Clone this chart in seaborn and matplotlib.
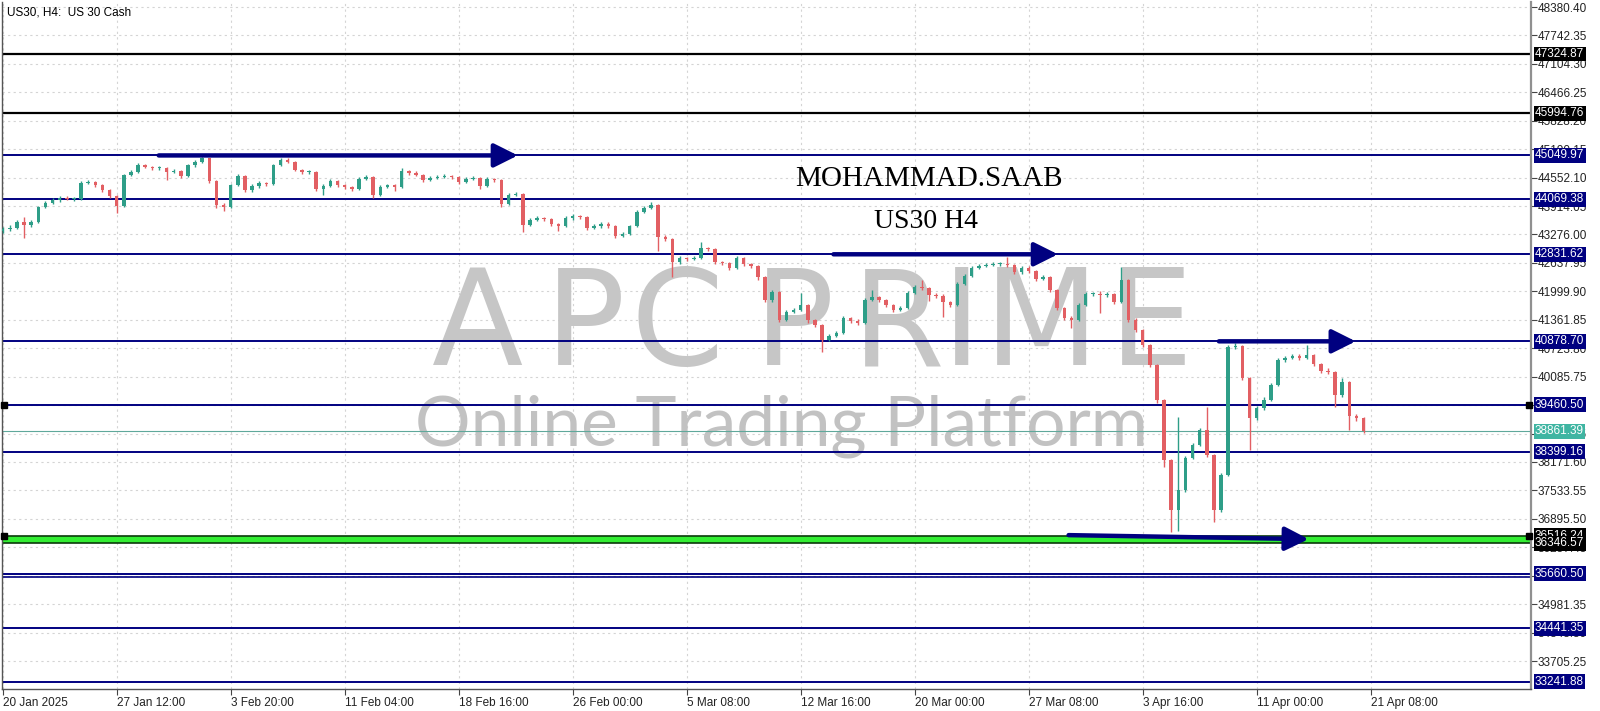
import numpy as np
import pandas as pd
import matplotlib

matplotlib.use('Agg')
import matplotlib.pyplot as plt
import matplotlib.transforms as mtransforms
import seaborn as sns

# ==========================================
# data (2 H4 bars per candle)
# ==========================================
first_open = 43350
closes = [43399, 43421, 43556, 43489, 43556, 43893, 43982, 44050, 44095, 44072,
          44072, 44431, 44454, 44386, 44274, 44140, 43915, 44611, 44678, 44835,
          44790, 44768, 44768, 44678, 44700, 44588, 44835, 44902, 44992, 44476,
          43938, 43893, 44386, 44588, 44274, 44364, 44431, 44409, 44835, 44947,
          44902, 44723, 44678, 44678, 44296, 44364, 44476, 44386, 44341, 44296,
          44521, 44566, 44162, 44341, 44386, 44341, 44700, 44656, 44611, 44498,
          44543, 44566, 44588, 44566, 44454, 44521, 44543, 44364, 44521, 44498,
          43960, 44162, 44184, 43489, 43601, 43646, 43623, 43511, 43466, 43646,
          43691, 43668, 43421, 43466, 43511, 43466, 43242, 43287, 43466, 43780,
          43870, 43938, 43220, 43175, 42658, 42748, 42726, 42748, 42973, 42950,
          42658, 42636, 42524, 42748, 42614, 42569, 42322, 41806, 41985, 41357,
          41537, 41581, 41694, 41357, 41245, 40908, 40998, 41065, 41402, 41335,
          41290, 41806, 41873, 41806, 41694, 41581, 41626, 41963, 42098, 42075,
          41918, 41896, 41761, 41694, 42165, 42344, 42524, 42569, 42591, 42614,
          42614, 42591, 42434, 42524, 42457, 42277, 42322, 42030, 41626, 41402,
          41357, 41694, 41940, 41940, 41918, 41940, 41761, 42255, 41357, 41133,
          40796, 40347, 39562, 38216, 37094, 37542, 38260, 38552, 38889, 38328,
          37094, 37879, 40751, 40774, 40056, 39158, 39382, 39562, 39899, 40459,
          40504, 40549, 40504, 40572, 40370, 40213, 40190, 39674, 39966, 39203,
          39158, 38861.39]
highs = [43440, 43480, 43600, 43668, 43610, 43920, 44030, 44090, 44140, 44130,
         44110, 44470, 44500, 44480, 44400, 44290, 44170, 44640, 44720, 44870,
         44860, 44820, 44810, 44800, 44740, 44720, 44860, 44940, 45015, 45000,
         44490, 43990, 44420, 44630, 44610, 44400, 44470, 44460, 44860, 45000,
         44990, 44920, 44750, 44720, 44700, 44400, 44520, 44500, 44410, 44360,
         44560, 44610, 44590, 44380, 44420, 44400, 44760, 44720, 44700, 44640,
         44580, 44600, 44630, 44620, 44590, 44560, 44580, 44560, 44560, 44550,
         44510, 44200, 44220, 44200, 43640, 43700, 43670, 43650, 43540, 43690,
         43730, 43720, 43690, 43510, 43560, 43560, 43500, 43330, 43500, 43820,
         43910, 44005, 43950, 43260, 43190, 42790, 42780, 42790, 43100, 43000,
         42980, 42690, 42660, 42800, 42770, 42640, 42600, 42340, 42030, 42000,
         41580, 41620, 41960, 41720, 41390, 41270, 41050, 41110, 41440, 41430,
         41370, 41840, 42030, 41900, 41830, 41720, 41670, 42000, 42140, 42255,
         42100, 41960, 41930, 41790, 42200, 42380, 42560, 42610, 42640, 42660,
         42660, 42770, 42620, 42560, 42560, 42480, 42360, 42340, 42050, 41650,
         41440, 41730, 41980, 41990, 42000, 41990, 41960, 42546, 42270, 41400,
         41160, 40820, 40370, 39590, 38240, 39180, 38300, 38600, 38940, 39405,
         38350, 37920, 40790, 40850, 40800, 40080, 39430, 39620, 39940, 40500,
         40550, 40600, 40590, 40790, 40600, 40400, 40280, 40220, 40060, 39990,
         39250, 39180]
lows = [43300, 43360, 43400, 43197, 43450, 43530, 43860, 43950, 44010, 44040,
        44030, 44050, 44400, 44350, 44230, 44100, 43758, 43900, 44580, 44650,
        44760, 44730, 44720, 44500, 44650, 44550, 44570, 44800, 44880, 44440,
        43860, 43800, 43880, 44360, 44240, 44230, 44330, 44370, 44390, 44810,
        44870, 44690, 44640, 44630, 44250, 44162, 44340, 44350, 44300, 44250,
        44280, 44500, 44095, 44140, 44320, 44250, 44320, 44610, 44580, 44460,
        44470, 44520, 44550, 44530, 44420, 44430, 44500, 44300, 44340, 44460,
        43900, 43940, 44140, 43332, 43470, 43570, 43580, 43470, 43350, 43440,
        43610, 43620, 43380, 43390, 43430, 43420, 43200, 43210, 43260, 43450,
        43750, 43840, 42900, 43130, 42330, 42620, 42690, 42700, 42730, 42900,
        42620, 42600, 42480, 42500, 42580, 42530, 42250, 41750, 41770, 41320,
        41340, 41510, 41560, 41300, 41190, 40639, 40880, 40970, 41040, 41300,
        41250, 41270, 41780, 41770, 41650, 41540, 41560, 41600, 41940, 42030,
        41780, 41850, 41425, 41640, 41670, 42140, 42320, 42500, 42540, 42570,
        42570, 42550, 42380, 42400, 42420, 42230, 42250, 41980, 41580, 41360,
        41177, 41330, 41670, 41900, 41514, 41880, 41720, 41740, 41320, 41090,
        40750, 40300, 39500, 38058, 36600, 36620, 37500, 38230, 38520, 38290,
        36824, 37050, 37850, 40700, 40000, 38440, 39120, 39340, 39540, 39870,
        40420, 40480, 40460, 40480, 40330, 40170, 40150, 39400, 39640, 38900,
        39100, 38820]

time_labels = ['20 Jan 2025', '27 Jan 12:00', '3 Feb 20:00', '11 Feb 04:00', '18 Feb 16:00',
               '26 Feb 00:00', '5 Mar 08:00', '12 Mar 16:00', '20 Mar 00:00', '27 Mar 08:00',
               '3 Apr 16:00', '11 Apr 00:00', '21 Apr 08:00']
price_ticks = [33705.25, 34343.30, 34981.35, 35619.40, 36257.45, 36895.50, 37533.55, 38171.60,
               38809.65, 39447.70, 40085.75, 40723.80, 41361.85, 41999.90, 42637.95, 43276.00,
               43914.05, 44552.10, 45190.15, 45828.20, 46466.25, 47104.30, 47742.35, 48380.40]

black_levels = [47324.87, 45994.76]
navy_levels = [45049.97, 44069.38, 42831.62, 40878.70, 39460.50, 38399.16, 35660.50, 34441.35, 33241.88]
extra_level = 35590.0
zone_low, zone_high = 36346.57, 36516.24
last_price = 38861.39

# arrows: (bar start, price start, bar end, price end)
arrow_segments = [(21.9, 45049.97, 72.3, 45049.97),
                  (116.6, 42831.62, 148.1, 42831.62),
                  (170.7, 40878.70, 189.9, 40878.70),
                  (149.6, 36530.0, 183.3, 36440.0)]

# watermark letters and their horizontal centres (axes fraction)
logo_letters = ['A', 'P', 'C', 'P', 'R', 'I', 'M', 'E']
logo_x = [0.3113, 0.3813, 0.4415, 0.5180, 0.5860, 0.6279, 0.6795, 0.7515]

NAVY = '#000080'
BULL = '#2e9e88'
BEAR = '#e25f63'

sns.set_theme(style="white")
plt.rcParams['font.family'] = ['Liberation Sans', 'DejaVu Sans']

df = pd.DataFrame({'close': closes, 'high': highs, 'low': lows})
df['open'] = [first_open] + closes[:-1]
df['bar'] = np.arange(len(df))
df['up'] = df['close'] >= df['open']

fig = plt.figure(figsize=(16, 7.11), dpi=100)
ax = fig.add_axes([2 / 1600, 22 / 711, 1529 / 1600, 687 / 711])
ax.set_xlim(-0.1, 214.5)
ax.set_ylim(33077, 48493)

# grid
ax.set_xticks(range(0, 16 * len(time_labels), 16))
ax.set_yticks(price_ticks)
ax.grid(True, color='#d4d4d4', linestyle=(0, (2, 3)), lw=0.8, zorder=0)

# watermark
wm_color = '#c6c6c6'
for ch, xf in zip(logo_letters, logo_x):
    ax.text(xf, 0.4716, ch, transform=ax.transAxes, ha='center', va='baseline',
            fontsize=96, family=['DejaVu Sans'], color=wm_color, zorder=0.8)
ax.text(0.5095, 0.354, 'Online Trading Platform', transform=ax.transAxes, ha='center', va='baseline',
        fontsize=50, family=['Lato', 'DejaVu Sans'], fontweight='normal', color='#c2c2c2', zorder=0.8)

# levels
for lv in black_levels:
    ax.axhline(lv, color='black', lw=1.6, zorder=2)
for lv in navy_levels:
    ax.axhline(lv, color=NAVY, lw=1.4, zorder=2)
ax.axhline(extra_level, color=NAVY, lw=1.2, zorder=2)
ax.axhspan(zone_low, zone_high, facecolor='#33ee33', edgecolor='none', zorder=2)
ax.axhline(zone_high, color='#0a3a0a', lw=1.2, zorder=2)
ax.axhline(zone_low, color='#0a3a0a', lw=1.2, zorder=2)
ax.axhline(last_price, color='#5fa89b', lw=0.8, zorder=2)

# candles
colors = np.where(df['up'], BULL, BEAR)
ax.vlines(df['bar'], df['low'], df['high'], colors=colors, lw=1.0, zorder=3)
body_low = df[['open', 'close']].min(axis=1)
body_h = (df['close'] - df['open']).abs().clip(lower=18)
ax.bar(df['bar'], body_h, bottom=body_low, width=0.5, color=colors, linewidth=0, zorder=3)

# arrows
for x0, y0, x1, y1 in arrow_segments:
    ax.annotate('', xy=(x1, y1), xytext=(x0, y0),
                arrowprops=dict(arrowstyle='-|>,head_length=0.8,head_width=0.4', color=NAVY,
                                lw=3.2, shrinkA=0, shrinkB=0, mutation_scale=18), zorder=4)

# selection handles
xl = ax.get_xlim()
for lv in [39460.50, zone_high]:
    ax.plot([xl[0] + 0.3, xl[1] - 0.3], [lv, lv], ls='none', marker='s', ms=4.5,
            color='black', clip_on=False, zorder=5)

# captions
ax.text(0.606, 0.742, 'MOHAMMAD.SAAB', transform=ax.transAxes, ha='center', va='center',
        fontsize=21, family=['Liberation Serif'], color='black', zorder=5)
ax.text(0.604, 0.680, 'US30 H4', transform=ax.transAxes, ha='center', va='center',
        fontsize=20, family=['Liberation Serif'], color='black', zorder=5)
ax.text(0.003, 0.993, 'US30, H4:  US 30 Cash', transform=ax.transAxes, ha='left', va='top',
        fontsize=8.5, color='black', zorder=5)

# axes styling
ax.yaxis.tick_right()
ax.set_yticklabels([f'{p:.2f}' for p in price_ticks])
ax.set_xticklabels(time_labels, ha='left')
ax.tick_params(axis='y', which='both', right=True, length=4, width=0.8, color='#444444',
               labelsize=8.5, pad=1, labelcolor='#222222')
ax.tick_params(axis='x', which='both', bottom=True, length=4, width=0.8, color='#444444',
               labelsize=8.5, pad=2, labelcolor='#222222')
for side in ['left', 'bottom']:
    ax.spines[side].set_color('#555555')
    ax.spines[side].set_linewidth(1.0)
ax.spines['right'].set_color('#909090')
ax.spines['right'].set_linewidth(1.6)
ax.spines['top'].set_visible(False)

# price labels on the right axis
trans = mtransforms.blended_transform_factory(ax.transAxes, ax.transData)
labels = [(lv, 'black') for lv in black_levels] + [(lv, NAVY) for lv in navy_levels] + \
         [(zone_high, 'black'), (zone_low, 'black'), (last_price, '#3fb5a2')]
for lv, bg in labels:
    ax.text(1.0 + 4 / 1529, lv, f'{lv:.2f}', transform=trans, ha='left', va='center',
            fontsize=8.5, color='white', zorder=6, clip_on=False,
            bbox=dict(boxstyle='square,pad=0.12', fc=bg, ec='none'))

fig.savefig('out.png', dpi=100)
plt.close(fig)
